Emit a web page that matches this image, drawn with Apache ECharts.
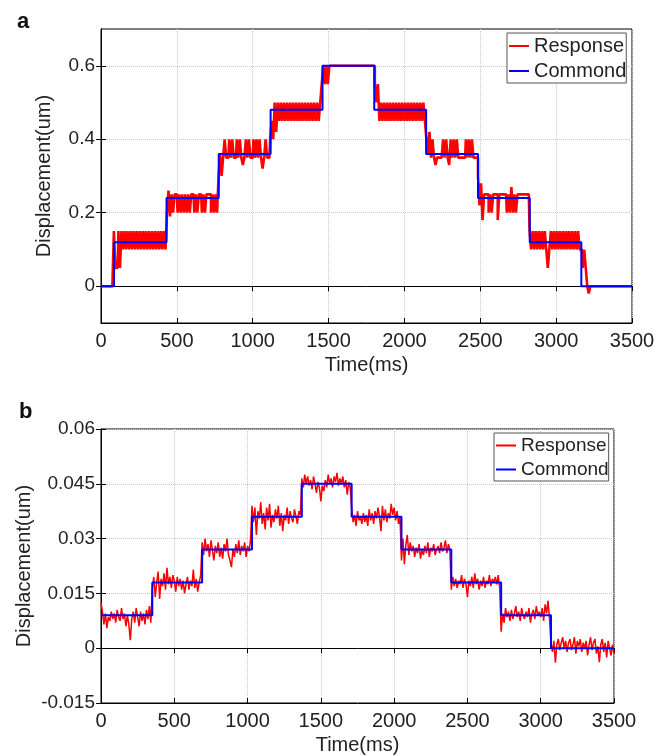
<!DOCTYPE html>
<html>
<head>
<meta charset="utf-8">
<title>Displacement response</title>
<script src="https://cdn.jsdelivr.net/npm/echarts@6/dist/echarts.min.js"></script>
<style>
  html, body { margin: 0; padding: 0; background: #fff; }
  #chart { width: 670px; height: 756px; }
</style>
</head>
<body>
<div id="chart"></div>
<script>
// response signals are sampled every 10 ms, t = 0 .. 3500
var timeStep = 10;
var xTicks = [0, 500, 1000, 1500, 2000, 2500, 3000, 3500];

// ---- panel a ----
var yTicksA = [0, 0.2, 0.4, 0.6];
var cmdStepsA = [86, 432, 776, 1118, 1460, 1801, 2143, 2485, 2826, 3166];
var cmdLevelsA = [0, 0.12, 0.24, 0.36, 0.48, 0.6, 0.48, 0.36, 0.24, 0.12, 0];
var respA = [
  0, 0, 0, 0, 0, 0, 0, 0, 0, 0.15,
  0.05, 0.05, 0.15, 0.05, 0.15, 0.1, 0.15, 0.1, 0.15, 0.1,
  0.15, 0.1, 0.15, 0.1, 0.15, 0.1, 0.15, 0.1, 0.15, 0.1,
  0.15, 0.1, 0.15, 0.1, 0.15, 0.1, 0.15, 0.1, 0.15, 0.1,
  0.15, 0.1, 0.15, 0.1, 0.2, 0.26, 0.19, 0.25, 0.2, 0.25,
  0.25, 0.2, 0.25, 0.2, 0.25, 0.2, 0.25, 0.2, 0.25, 0.2,
  0.25, 0.25, 0.2, 0.25, 0.2, 0.25, 0.25, 0.2, 0.25, 0.2,
  0.25, 0.25, 0.25, 0.2, 0.25, 0.2, 0.25, 0.2, 0.3, 0.36,
  0.3, 0.35, 0.4, 0.35, 0.35, 0.4, 0.35, 0.4, 0.35, 0.35,
  0.4, 0.35, 0.4, 0.35, 0.33, 0.35, 0.4, 0.35, 0.4, 0.35,
  0.35, 0.4, 0.35, 0.4, 0.35, 0.4, 0.35, 0.32, 0.35, 0.4,
  0.35, 0.35, 0.4, 0.45, 0.4, 0.5, 0.42, 0.5, 0.45, 0.5,
  0.45, 0.5, 0.45, 0.5, 0.45, 0.5, 0.45, 0.5, 0.45, 0.5,
  0.45, 0.5, 0.45, 0.5, 0.45, 0.5, 0.45, 0.5, 0.45, 0.5,
  0.45, 0.5, 0.45, 0.5, 0.45, 0.5, 0.55, 0.6, 0.55, 0.6,
  0.55, 0.6, 0.6, 0.6, 0.6, 0.6, 0.6, 0.6, 0.6, 0.6,
  0.6, 0.6, 0.6, 0.6, 0.6, 0.6, 0.6, 0.6, 0.6, 0.6,
  0.6, 0.6, 0.6, 0.6, 0.6, 0.6, 0.6, 0.6, 0.6, 0.6,
  0.6, 0.55, 0.5, 0.55, 0.45, 0.5, 0.45, 0.5, 0.45, 0.5,
  0.45, 0.5, 0.45, 0.5, 0.45, 0.5, 0.45, 0.5, 0.45, 0.5,
  0.45, 0.5, 0.45, 0.5, 0.45, 0.5, 0.45, 0.5, 0.45, 0.5,
  0.45, 0.5, 0.45, 0.5, 0.45, 0.4, 0.36, 0.42, 0.35, 0.4,
  0.35, 0.33, 0.35, 0.35, 0.35, 0.35, 0.4, 0.35, 0.4, 0.35,
  0.33, 0.4, 0.35, 0.4, 0.35, 0.4, 0.35, 0.35, 0.35, 0.35,
  0.35, 0.4, 0.35, 0.4, 0.35, 0.4, 0.35, 0.35, 0.35, 0.3,
  0.22, 0.28, 0.18, 0.25, 0.25, 0.25, 0.2, 0.25, 0.2, 0.25,
  0.25, 0.25, 0.18, 0.25, 0.25, 0.25, 0.25, 0.25, 0.2, 0.25,
  0.2, 0.27, 0.2, 0.25, 0.2, 0.25, 0.25, 0.25, 0.25, 0.25,
  0.25, 0.25, 0.25, 0.15, 0.1, 0.15, 0.1, 0.15, 0.1, 0.15,
  0.1, 0.15, 0.1, 0.15, 0.1, 0.05, 0.1, 0.15, 0.1, 0.15,
  0.1, 0.15, 0.1, 0.15, 0.1, 0.15, 0.1, 0.15, 0.1, 0.15,
  0.1, 0.15, 0.1, 0.15, 0.1, 0.15, 0.1, 0.1, 0.05, 0.1,
  0.05, 0, -0.02, 0, 0, 0, 0, 0, 0, 0,
  0, 0, 0, 0, 0, 0, 0, 0, 0, 0,
  0, 0, 0, 0, 0, 0, 0, 0, 0, 0,
  0
];

// ---- panel b ----
var yTicksB = [-0.015, 0, 0.015, 0.03, 0.045, 0.06];
var cmdStepsB = [350, 690, 1030, 1370, 1710, 2050, 2390, 2730, 3070];
var cmdLevelsB = [0.009, 0.018, 0.027, 0.036, 0.045, 0.036, 0.027, 0.018, 0.009, 0];
var respB = [
  0.0125, 0.0100, 0.0065, 0.0095, 0.0055, 0.0085, 0.0075, 0.0100, 0.0080, 0.0095,
  0.0070, 0.0105, 0.0085, 0.0075, 0.0110, 0.0080, 0.0095, 0.0060, 0.0090, 0.0065,
  0.0022, 0.0080, 0.0100, 0.0070, 0.0110, 0.0085, 0.0060, 0.0100, 0.0075, 0.0095,
  0.0065, 0.0105, 0.0080, 0.0115, 0.0070, 0.0165, 0.0195, 0.0140, 0.0180, 0.0210,
  0.0135, 0.0190, 0.0170, 0.0205, 0.0160, 0.0220, 0.0175, 0.0195, 0.0165, 0.0200,
  0.0185, 0.0155, 0.0195, 0.0170, 0.0190, 0.0160, 0.0185, 0.0150, 0.0175, 0.0195,
  0.0160, 0.0185, 0.0170, 0.0215, 0.0165, 0.0190, 0.0155, 0.0180, 0.0200, 0.0290,
  0.0255, 0.0300, 0.0265, 0.0285, 0.0250, 0.0295, 0.0270, 0.0240, 0.0280, 0.0260,
  0.0290, 0.0250, 0.0275, 0.0245, 0.0285, 0.0265, 0.0300, 0.0255, 0.0240, 0.0222,
  0.0270, 0.0250, 0.0285, 0.0260, 0.0295, 0.0255, 0.0280, 0.0265, 0.0290, 0.0250,
  0.0280, 0.0265, 0.0295, 0.0390, 0.0345, 0.0385, 0.0310, 0.0375, 0.0355, 0.0400,
  0.0340, 0.0370, 0.0325, 0.0385, 0.0350, 0.0395, 0.0330, 0.0365, 0.0345, 0.0380,
  0.0355, 0.0390, 0.0335, 0.0370, 0.0320, 0.0365, 0.0350, 0.0385, 0.0340, 0.0375,
  0.0355, 0.0345, 0.0380, 0.0360, 0.0340, 0.0375, 0.0365, 0.0465, 0.0440, 0.0475,
  0.0450, 0.0470, 0.0445, 0.0460, 0.0435, 0.0470, 0.0450, 0.0425, 0.0455, 0.0440,
  0.0402, 0.0445, 0.0430, 0.0460, 0.0440, 0.0475, 0.0450, 0.0465, 0.0440, 0.0470,
  0.0455, 0.0480, 0.0445, 0.0465, 0.0450, 0.0470, 0.0440, 0.0460, 0.0420, 0.0455,
  0.0440, 0.0385, 0.0345, 0.0365, 0.0335, 0.0375, 0.0350, 0.0360, 0.0340, 0.0370,
  0.0345, 0.0365, 0.0335, 0.0380, 0.0350, 0.0370, 0.0340, 0.0375, 0.0355, 0.0385,
  0.0360, 0.0320, 0.0390, 0.0350, 0.0380, 0.0345, 0.0370, 0.0355, 0.0395, 0.0365,
  0.0385, 0.0350, 0.0375, 0.0340, 0.0360, 0.0240, 0.0300, 0.0230, 0.0285, 0.0310,
  0.0255, 0.0290, 0.0265, 0.0280, 0.0250, 0.0275, 0.0260, 0.0285, 0.0245, 0.0270,
  0.0255, 0.0280, 0.0260, 0.0290, 0.0250, 0.0275, 0.0265, 0.0285, 0.0255, 0.0270,
  0.0280, 0.0260, 0.0290, 0.0265, 0.0275, 0.0295, 0.0260, 0.0285, 0.0270, 0.0160,
  0.0195, 0.0170, 0.0190, 0.0165, 0.0185, 0.0175, 0.0200, 0.0165, 0.0190, 0.0175,
  0.0140, 0.0185, 0.0170, 0.0195, 0.0165, 0.0205, 0.0175, 0.0190, 0.0160, 0.0185,
  0.0170, 0.0195, 0.0165, 0.0185, 0.0175, 0.0200, 0.0170, 0.0190, 0.0180, 0.0195,
  0.0175, 0.0200, 0.0165, 0.0045, 0.0095, 0.0070, 0.0110, 0.0085, 0.0100, 0.0075,
  0.0105, 0.0080, 0.0095, 0.0115, 0.0085, 0.0100, 0.0075, 0.0110, 0.0090, 0.0080,
  0.0100, 0.0085, 0.0110, 0.0070, 0.0095, 0.0105, 0.0080, 0.0115, 0.0090, 0.0100,
  0.0085, 0.0110, 0.0075, 0.0120, 0.0095, 0.0130, 0.0080, 0.0015, -0.0010, 0.0020,
  -0.0040, 0.0010, 0.0025, -0.0005, 0.0015, 0.0030, 0.0000, 0.0020, -0.0010, 0.0015,
  0.0025, -0.0005, 0.0010, 0.0030, -0.0015, 0.0020, 0.0005, 0.0025, -0.0010, 0.0015,
  0.0000, 0.0020, -0.0020, 0.0010, 0.0030, -0.0005, 0.0015, 0.0025, -0.0015, 0.0005,
  -0.0038, 0.0010, 0.0025, -0.0010, 0.0015, -0.0025, 0.0020, 0.0000, -0.0020, 0.0010,
  -0.0015
];

var FONT = 'Liberation Sans, Arial, sans-serif';

function toPairs(values) {
  return values.map(function (v, i) { return [i * timeStep, v]; });
}

function commandLine(steps, levels) {
  var out = [[0, levels[0]]];
  for (var i = 0; i < steps.length; i++) {
    out.push([steps[i], levels[i + 1]]);
  }
  out.push([3500, levels[levels.length - 1]]);
  return out;
}

function fmtTick(v) {
  return String(+v.toFixed(4));
}

function mainX(gridIndex) {
  return {
    type: 'value', gridIndex: gridIndex, min: 0, max: 3500, interval: 500,
    name: 'Time(ms)', nameLocation: 'middle', nameGap: 32, nameMoveOverlap: false,
    nameTextStyle: { fontFamily: FONT, fontSize: 20, color: '#222' },
    axisLine: { show: true, onZero: false, lineStyle: { color: '#000' } },
    axisTick: { inside: true, length: 5, customValues: xTicks, lineStyle: { color: '#000' } },
    axisLabel: { fontFamily: FONT, fontSize: 20, color: '#222', margin: 8,
                 customValues: xTicks, formatter: fmtTick },
    splitLine: { show: true, lineStyle: { color: '#c8c8c8', type: 'dotted' } }
  };
}

function topX(gridIndex) {
  return {
    type: 'value', gridIndex: gridIndex, position: 'top', min: 0, max: 3500, interval: 500,
    axisLine: { show: true, lineStyle: { color: '#000' } },
    axisTick: { inside: true, length: 5, lineStyle: { color: '#000' } },
    axisLabel: { show: false },
    splitLine: { show: false }
  };
}

function mainY(gridIndex, min, max, ticks, gap) {
  return {
    type: 'value', gridIndex: gridIndex, min: min, max: max,
    name: 'Displacement(um)', nameLocation: 'middle', nameGap: gap, nameMoveOverlap: false,
    nameTextStyle: { fontFamily: FONT, fontSize: 20, color: '#222' },
    axisLine: { show: true, onZero: false, lineStyle: { color: '#000' } },
    axisTick: { inside: true, length: 5, customValues: ticks, lineStyle: { color: '#000' } },
    axisLabel: { fontFamily: FONT, fontSize: 19, color: '#222', margin: 6,
                 customValues: ticks, formatter: fmtTick },
    splitLine: { show: true, lineStyle: { color: '#c8c8c8', type: 'dotted' } }
  };
}

function rightY(gridIndex, min, max, ticks) {
  return {
    type: 'value', gridIndex: gridIndex, position: 'right', min: min, max: max,
    axisLine: { show: true, lineStyle: { color: '#000' } },
    axisTick: { inside: true, length: 5, customValues: ticks, lineStyle: { color: '#000' } },
    axisLabel: { show: false, customValues: ticks },
    splitLine: { show: false }
  };
}

function legendAt(left, top, size) {
  return {
    orient: 'vertical', left: left, top: top,
    data: [
      { name: 'Response', icon: 'rect', itemStyle: { color: '#ff0000' } },
      { name: 'Commond', icon: 'rect', itemStyle: { color: '#0000ff' } }
    ],
    itemWidth: 20, itemHeight: 2, itemGap: 5,
    padding: [3, 0, 2, 2],
    borderColor: '#555', borderWidth: 1, backgroundColor: '#fff',
    textStyle: { fontFamily: FONT, fontSize: size, color: '#222' }
  };
}

var chart = echarts.init(document.getElementById('chart'));
chart.setOption({
  animation: false,
  backgroundColor: '#fff',
  title: [
    { text: 'a', left: 12, top: 6, textStyle: { fontFamily: FONT, fontSize: 22, fontWeight: 'bold', color: '#111' } },
    { text: 'b', left: 14, top: 396, textStyle: { fontFamily: FONT, fontSize: 22, fontWeight: 'bold', color: '#111' } }
  ],
  legend: [legendAt(507, 33, 20), legendAt(494, 433, 19)],
  grid: [
    { left: 101, top: 29, width: 531, height: 294, show: true, borderColor: '#000', borderWidth: 1 },
    { left: 101, top: 429, width: 513, height: 274, show: true, borderColor: '#000', borderWidth: 1 }
  ],
  xAxis: [mainX(0), topX(0), mainX(1), topX(1)],
  yAxis: [
    mainY(0, -0.1, 0.7, yTicksA, 47),
    rightY(0, -0.1, 0.7, yTicksA),
    mainY(1, -0.015, 0.06, yTicksB, 67),
    rightY(1, -0.015, 0.06, yTicksB)
  ],
  series: [
    { name: 'Response', type: 'line', xAxisIndex: 0, yAxisIndex: 0, data: toPairs(respA),
      step: 'middle', symbol: 'none', sampling: null,
      lineStyle: { color: '#ff0000', width: 2.6 }, itemStyle: { color: '#ff0000' } },
    { name: 'Commond', type: 'line', xAxisIndex: 0, yAxisIndex: 0, data: commandLine(cmdStepsA, cmdLevelsA),
      step: 'end', symbol: 'none', lineStyle: { color: '#0000ff', width: 2 }, itemStyle: { color: '#0000ff' } },
    { name: 'Response', type: 'line', xAxisIndex: 2, yAxisIndex: 2, data: toPairs(respB),
      symbol: 'none', sampling: null, lineStyle: { color: '#ff0000', width: 1.5 }, itemStyle: { color: '#ff0000' } },
    { name: 'Commond', type: 'line', xAxisIndex: 2, yAxisIndex: 2, data: commandLine(cmdStepsB, cmdLevelsB),
      step: 'end', symbol: 'none', lineStyle: { color: '#0000ff', width: 2 }, itemStyle: { color: '#0000ff' } }
  ]
});
</script>
</body>
</html>
